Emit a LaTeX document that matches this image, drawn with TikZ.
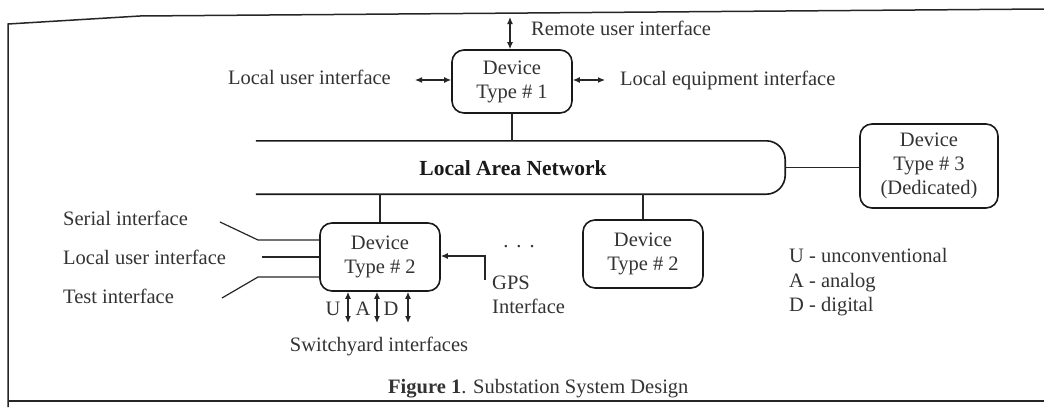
\documentclass[tikz,border=0pt]{standalone}
\usepackage{fontspec}
\setmainfont{Liberation Serif}
\usetikzlibrary{arrows.meta}
\begin{document}
\begin{tikzpicture}[x=1pt,y=-1pt,
  every node/.style={inner sep=0pt, text=black!80},
  txt/.style={font=\fontsize{20.5}{24}\selectfont, text height=14pt, text depth=4pt},
  dev/.style={draw=black!90, line width=1.6pt, rounded corners=12pt, align=center,
              font=\fontsize{20.5}{24}\selectfont},
  wire/.style={line width=1.2pt, draw=black!85},
  bi/.style={wire, {Latex[length=7pt,width=6pt]}-{Latex[length=7pt,width=6pt]}},
  uni/.style={wire, -{Latex[length=7pt,width=6pt]}},
  frame/.style={line width=1.5pt, draw=black!85}]
\useasboundingbox (0,0) rectangle (1044,407);
% outer frame
\draw[frame] (8,407) -- (8,24) -- (140,16) -- (1044,9);
\draw[frame] (8,401) -- (1044,401);

% devices
\node[dev, minimum width=120pt, minimum height=63pt] (d1) at (512,81.5) {Device\\Type \# 1};
\node[dev, minimum width=120pt, minimum height=68pt] (d2a) at (380,257) {Device\\Type \# 2};
\node[dev, minimum width=120pt, minimum height=68pt] (d2b) at (643,254) {Device\\Type \# 2};
\node[dev, minimum width=138pt, minimum height=84pt] (d3) at (929,166) {Device\\Type \# 3\\(Dedicated)};

% local area network bus (open on the left)
\node[minimum width=529pt, minimum height=53pt] (lan) at (520.5,167.5) {};
\draw[line width=1.6pt, draw=black!90, rounded corners=19pt]
  (lan.north west) -- (lan.north east) -- (lan.south east) -- (lan.south west);
\node[font=\bfseries\fontsize{21.5}{24}\selectfont, text=black!90] (lanlbl) at (513,168) {Local Area Network};

% bus taps
\draw[wire] (d1.south) -- (d1.south |- lan.north);
\draw[wire] (d2a.north) -- (d2a.north |- lan.south);
\draw[wire] (d2b.north) -- (d2b.north |- lan.south);
\draw[wire] (lan.east) -- (lan.east -| d3.west);

% interfaces of device type 1
\coordinate (rem) at (510,17);
\draw[bi] (rem) -- (rem |- d1.north);
\node[txt, anchor=west] (remlbl) at (531,30) {Remote user interface};
\coordinate (lui1) at (415,80);
\draw[bi] (lui1) -- (lui1 -| d1.west);
\node[txt, anchor=east] (lui1lbl) at (391,79) {Local user interface};
\coordinate (lei) at (605,80);
\draw[bi] (lei -| d1.east) -- (lei);
\node[txt, anchor=west] (leilbl) at (620,80) {Local equipment interface};

% interfaces of device type 2
\node[txt, anchor=west] (ser) at (63,220) {Serial interface};
\node[txt, anchor=west] (lui2) at (63,259) {Local user interface};
\node[txt, anchor=west] (tst) at (63,298) {Test interface};
\coordinate (s0) at (220,222);
\coordinate (s1) at (258,240);
\coordinate (l1) at (262,257);
\coordinate (t0) at (222,298);
\coordinate (t1) at (258,277);
\draw[wire] (s0) -- (s1) -- (s1 -| d2a.west);
\draw[wire] (l1) -- (l1 -| d2a.west);
\draw[wire] (t0) -- (t1) -- (t1 -| d2a.west);

% switchyard interfaces
\coordinate (u) at (348,323);
\coordinate (a) at (377,323);
\coordinate (dd) at (408,323);
\draw[bi] (u |- d2a.south) -- (u);
\draw[bi] (a |- d2a.south) -- (a);
\draw[bi] (dd |- d2a.south) -- (dd);
\node[txt] (ulbl) at (333,310) {U};
\node[txt] (albl) at (363,310) {A};
\node[txt] (dlbl) at (391,310) {D};
\node[txt] (swlbl) at (379,346) {Switchyard interfaces};

% GPS input
\coordinate (gps) at (485,280);
\coordinate (gpsbend) at (485,256);
\draw[uni] (gps) -- (gpsbend) -- (gpsbend -| d2a.east);
\node[txt, anchor=west] (gpslbl) at (492,284) {GPS};
\node[txt, anchor=west] (gpslbl2) at (492,308) {Interface};
\node[txt] (dots) at (519,242) {.\hspace{8pt}.\hspace{8pt}.};

% legend
\node[txt, anchor=west] (lg1) at (789,257) {U - unconventional};
\node[txt, anchor=west] (lg2) at (789,282) {A - analog};
\node[txt, anchor=west] (lg3) at (789,306) {D - digital};

% caption
\node[txt, anchor=west] (cap) at (388,388) {\textbf{Figure 1}. Substation System Design};
\end{tikzpicture}
\end{document}
